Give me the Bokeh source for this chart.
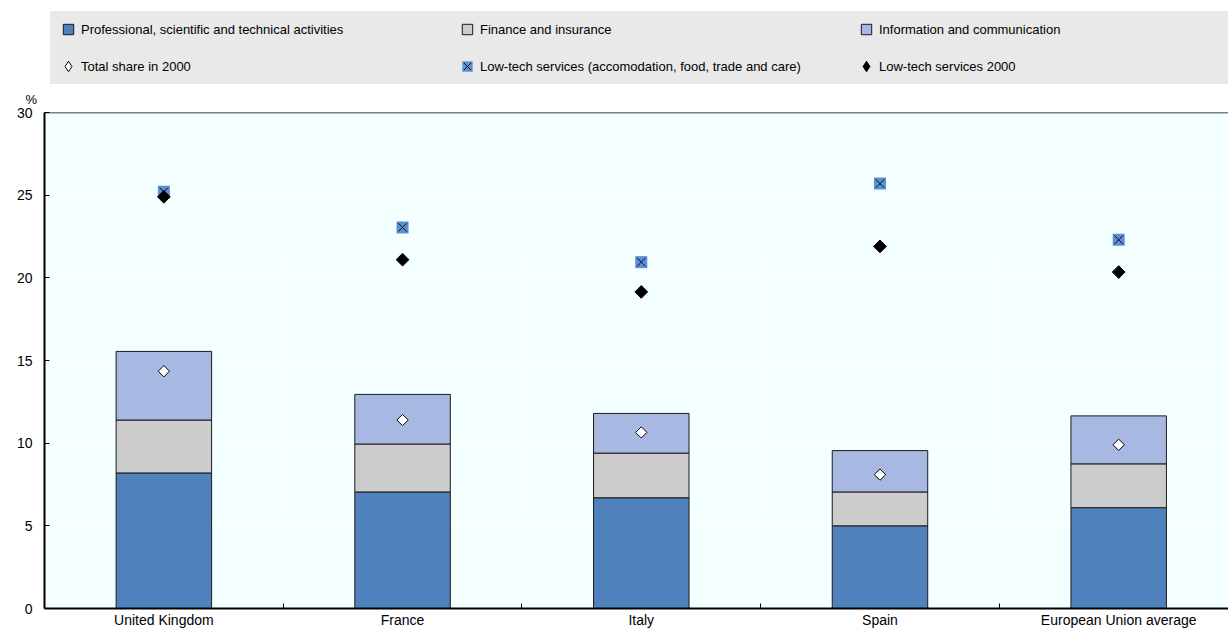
import math
from bokeh.plotting import figure
from bokeh.layouts import column
from bokeh.models import Legend, LegendItem, FixedTicker, Range1d, Span, ColumnDataSource, Title
from bokeh.embed import file_html
from bokeh.resources import INLINE

categories = ["United Kingdom", "France", "Italy", "Spain", "European Union average"]
professional = [8.2, 7.05, 6.7, 5.0, 6.1]
finance = [3.2, 2.9, 2.7, 2.05, 2.65]
information = [4.15, 3.0, 2.4, 2.5, 2.9]
total_2000 = [14.35, 11.4, 10.65, 8.1, 9.9]
lowtech = [25.2, 23.05, 20.95, 25.7, 22.3]
lowtech_2000 = [24.9, 21.1, 19.15, 21.9, 20.35]
y_ticks = [0, 5, 10, 15, 20, 25, 30]
series_labels = ["Professional, scientific and technical activities", "Finance and insurance",
                 "Information and communication", "Total share in 2000",
                 "Low-tech services (accomodation, food, trade and care)", "Low-tech services 2000"]

FONT = "Liberation Sans"
C_PRO, C_FIN, C_ICT, C_LT = "#4f81bd", "#cccccc", "#a7b9e3", "#5b8fd6"
LEG_BG = "#e9e9e9"

xs = list(range(len(categories)))
src = ColumnDataSource(dict(x=xs, professional=professional, finance=finance,
                            information=information, total_2000=total_2000,
                            lowtech=lowtech, lowtech_2000=lowtech_2000))

# ---------------- main chart ----------------
p = figure(width=1228, height=546, output_backend="svg", toolbar_location=None,
           x_range=Range1d(-0.5, 4.46), y_range=Range1d(0, 30),
           min_border_left=44, min_border_right=0, min_border_top=26, min_border_bottom=22)
p.background_fill_color = "#f4ffff"
p.border_fill_color = "white"
p.outline_line_color = None

p.add_layout(Title(text="%", align="left", offset=-19, standoff=11, text_font=FONT,
                   text_font_size="13px", text_font_style="normal", text_color="black"), "above")

p.vbar_stack(["professional", "finance", "information"], x="x", width=0.4, source=src,
             color=[C_PRO, C_FIN, C_ICT], line_color="#1a1a1a", line_width=1)
p.scatter("x", "total_2000", source=src, marker="square", size=8, angle=math.pi / 4,
          fill_color="white", line_color="black", line_width=1)
p.scatter("x", "lowtech", source=src, marker="square", size=12, fill_color=C_LT, line_color=None)
p.scatter("x", "lowtech", source=src, marker="x", size=12, line_color="#111111", line_width=1)
p.scatter("x", "lowtech_2000", source=src, marker="square", size=9, angle=math.pi / 4,
          fill_color="black", line_color="black")

p.add_layout(Span(location=30, dimension="width", line_color="black", line_width=1.5))

p.xaxis.ticker = FixedTicker(ticks=xs, minor_ticks=[i + 0.5 for i in xs[:-1]])
p.xaxis.major_label_overrides = {i: c for i, c in zip(xs, categories)}
p.xaxis.major_tick_in = 0
p.xaxis.major_tick_out = 0
p.xaxis.minor_tick_in = 5
p.xaxis.minor_tick_out = 0
p.xaxis.minor_tick_line_color = "black"
p.xaxis.axis_line_color = "black"
p.xaxis.axis_line_width = 2
p.xaxis.major_label_standoff = 3
p.xaxis.major_label_text_font = FONT
p.xaxis.major_label_text_font_size = "14px"
p.xaxis.major_label_text_color = "black"

p.yaxis.ticker = FixedTicker(ticks=y_ticks)
p.yaxis.major_tick_in = 5
p.yaxis.major_tick_out = 0
p.yaxis.minor_tick_line_color = None
p.yaxis.major_tick_line_color = "black"
p.yaxis.axis_line_color = "black"
p.yaxis.axis_line_width = 2
p.yaxis.major_label_standoff = 12
p.yaxis.major_label_text_font = FONT
p.yaxis.major_label_text_font_size = "14px"
p.yaxis.major_label_text_color = "black"

p.xgrid.grid_line_color = None
p.xgrid.minor_grid_line_color = "white"
p.xgrid.minor_grid_line_width = 1.5
p.ygrid.grid_line_color = "white"
p.ygrid.grid_line_width = 1.5

# ---------------- legend strip (same series, kept outside its visible range) ----------------
pl = figure(width=1228, height=84, output_backend="svg", toolbar_location=None,
            x_range=Range1d(-0.5, 4.46), y_range=Range1d(-1000, -999),
            x_axis_type=None, y_axis_type=None, min_border=0)
pl.outline_line_color = None
pl.grid.visible = False
pl.background_fill_color = "white"
pl.border_fill_color = "white"

g_pro = pl.scatter("x", "professional", source=src, marker="square", fill_color=C_PRO, line_color="#1a1a1a")
g_fin = pl.scatter("x", "finance", source=src, marker="square", fill_color=C_FIN, line_color="#1a1a1a")
g_ict = pl.scatter("x", "information", source=src, marker="square", fill_color=C_ICT, line_color="#1a1a1a")
g_tot = pl.scatter("x", "total_2000", source=src, marker="diamond", fill_color="white", line_color="black")
g_lt_sq = pl.scatter("x", "lowtech", source=src, marker="square", fill_color=C_LT, line_color=None)
g_lt_x = pl.scatter("x", "lowtech", source=src, marker="x", line_color="#111111")
g_lt0 = pl.scatter("x", "lowtech_2000", source=src, marker="diamond", fill_color="black", line_color="black")

glyph_sets = [[g_pro], [g_fin], [g_ict], [g_tot], [g_lt_sq, g_lt_x], [g_lt0]]
legend = Legend(items=[LegendItem(label=lab, renderers=rs) for lab, rs in zip(series_labels, glyph_sets)],
                ncols=3, orientation="horizontal", location=(6, 0))
legend.background_fill_color = LEG_BG
legend.background_fill_alpha = 1
legend.border_line_color = LEG_BG
legend.border_line_width = 1
legend.label_text_font = FONT
legend.label_text_font_size = "13px"
legend.label_text_color = "black"
legend.glyph_width = 26
legend.glyph_height = 26
legend.label_standoff = 0
legend.label_height = 20
legend.label_width = 362
legend.spacing = 11
legend.padding = 4
legend.margin = 0
pl.add_layout(legend, "center")

layout = column(pl, p, spacing=0)
open("out.html", "w").write(file_html(layout, INLINE))
